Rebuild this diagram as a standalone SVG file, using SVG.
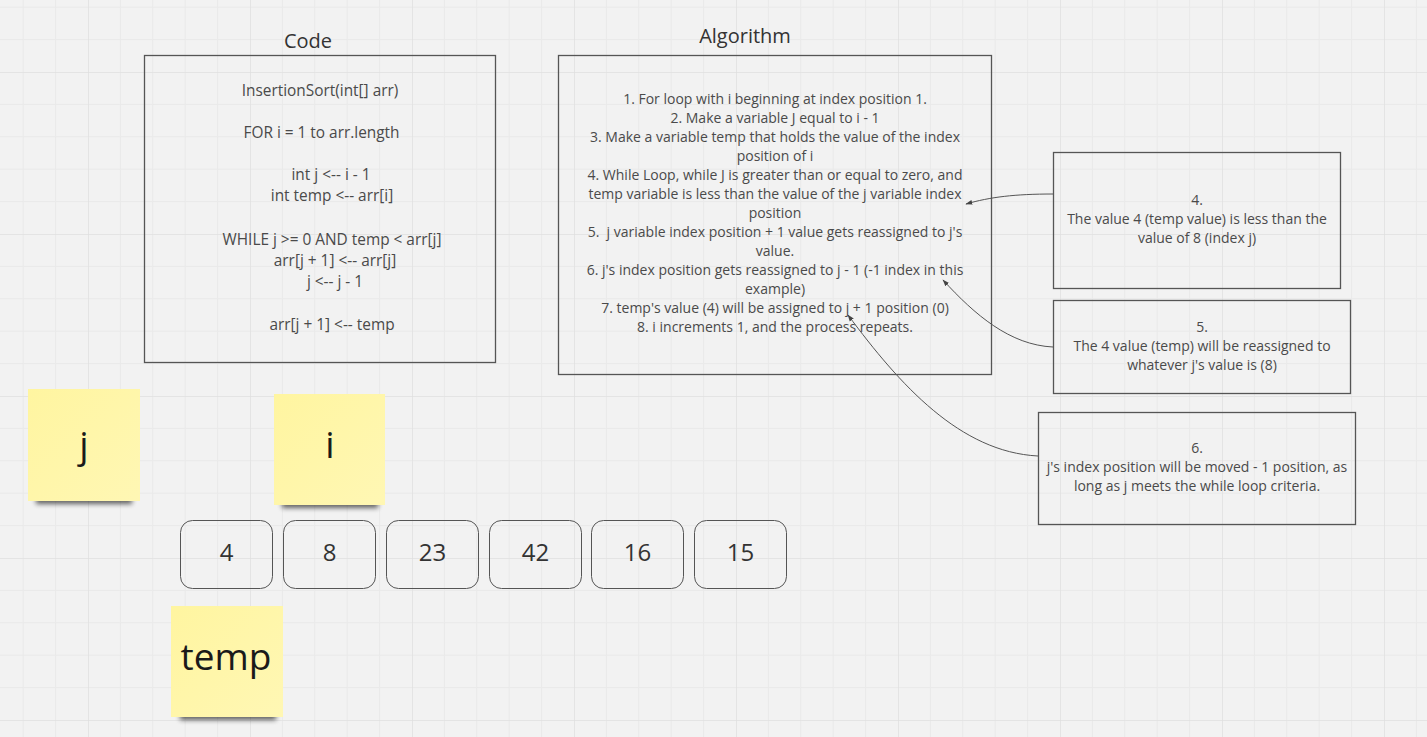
<svg xmlns="http://www.w3.org/2000/svg" width="1427" height="737" viewBox="0 0 1427 737">
<defs>
<pattern id="grid" x="88" y="72" width="162" height="162" patternUnits="userSpaceOnUse">
<path d="M32.4 0V162M64.8 0V162M97.2 0V162M129.6 0V162M0 32.4H162M0 64.8H162M0 97.2H162M0 129.6H162" stroke="#e9e9e9" stroke-width="1" fill="none"/>
<path d="M0 0V162M0 0H162" stroke="#e0e0e0" stroke-width="1.5" fill="none"/>
</pattern>
<linearGradient id="sticky" x1="0" y1="0" x2="1" y2="1">
<stop offset="0" stop-color="#fff5a0"/>
<stop offset="1" stop-color="#fff7b4"/>
</linearGradient>
<filter id="blur" x="-20%" y="-200%" width="140%" height="500%">
<feGaussianBlur stdDeviation="2.5"/>
</filter>
<marker id="arr" viewBox="0 0 10 10" refX="9" refY="5" markerWidth="7" markerHeight="7" orient="auto-start-reverse">
<path d="M0 1.5L10 5L0 8.5z" fill="#444"/>
</marker>
</defs>
<style>
text{font-family:"Open Sans","Noto Sans","Liberation Sans",sans-serif;text-anchor:middle}
.box{fill:none;stroke:#555;stroke-width:1.3}
.title{font-size:20px;fill:#333}
.code{font-size:15.4px;fill:#4a4a4a}
.alg{font-size:14px;fill:#4a4a4a}
.note{font-size:14px;fill:#4a4a4a}
.cell{fill:none;stroke:#555;stroke-width:1}
.num{font-size:24px;fill:#333}
.stk{fill:url(#sticky)}
.shadow{fill:#000;opacity:0.6;filter:url(#blur)}
.stxt{font-size:37px;fill:#1a1a1a}
.conn{fill:none;stroke:#555;stroke-width:1;marker-end:url(#arr)}
</style>
<rect width="1427" height="737" fill="#f2f2f2"/>
<rect width="1427" height="737" fill="url(#grid)"/>

<g id="code">
<text class="title" x="308" y="48">Code</text>
<rect class="box" x="144.5" y="55.5" width="351" height="307"/>
<text class="code" x="320" y="96">InsertionSort(int[] arr)</text>
<text class="code" x="321.5" y="138">FOR i = 1 to arr.length</text>
<text class="code" x="331" y="180">int j &lt;-- i - 1</text>
<text class="code" x="332" y="201">int temp &lt;-- arr[i]</text>
<text class="code" x="332" y="245">WHILE j &gt;= 0 AND temp &lt; arr[j]</text>
<text class="code" x="335" y="266">arr[j + 1] &lt;-- arr[j]</text>
<text class="code" x="335" y="287">j &lt;-- j - 1</text>
<text class="code" x="332" y="330">arr[j + 1] &lt;-- temp</text>
</g>

<g id="algorithm">
<text class="title" x="745" y="43">Algorithm</text>
<rect class="box" x="558.5" y="55.5" width="433" height="319"/>
<text class="alg" x="775" y="104">1. For loop with i beginning at index position 1.</text>
<text class="alg" x="775" y="123">2. Make a variable J equal to i - 1</text>
<text class="alg" x="775" y="142">3. Make a variable temp that holds the value of the index</text>
<text class="alg" x="775" y="161">position of i</text>
<text class="alg" x="775" y="180">4. While Loop, while J is greater than or equal to zero, and</text>
<text class="alg" x="775" y="199">temp variable is less than the value of the j variable index</text>
<text class="alg" x="775" y="218">position</text>
<text class="alg" x="775" y="237" xml:space="preserve">5.  j variable index position + 1 value gets reassigned to j's</text>
<text class="alg" x="775" y="256">value.</text>
<text class="alg" x="775" y="275">6. j's index position gets reassigned to j - 1 (-1 index in this</text>
<text class="alg" x="775" y="294">example)</text>
<text class="alg" x="775" y="313">7. temp's value (4) will be assigned to j + 1 position (0)</text>
<text class="alg" x="775" y="332">8. i increments 1, and the process repeats.</text>
</g>

<g id="note4">
<rect class="box" x="1053.5" y="152.5" width="287" height="136"/>
<text class="note" x="1197" y="205">4.</text>
<text class="note" x="1197" y="224">The value 4 (temp value) is less than the</text>
<text class="note" x="1197" y="243">value of 8 (index j)</text>
</g>
<g id="note5">
<rect class="box" x="1053.5" y="300.5" width="297" height="93"/>
<text class="note" x="1202" y="332">5.</text>
<text class="note" x="1202" y="351">The 4 value (temp) will be reassigned to</text>
<text class="note" x="1202" y="370">whatever j's value is (8)</text>
</g>
<g id="note6">
<rect class="box" x="1038.5" y="412.5" width="317" height="112"/>
<text class="note" x="1197" y="453">6.</text>
<text class="note" x="1197" y="472">j's index position will be moved - 1 position, as</text>
<text class="note" x="1197" y="491">long as j meets the while loop criteria.</text>
</g>

<g id="connectors">
<path class="conn" d="M1053 194C1015 194 990 197 966 204"/>
<path class="conn" d="M1053 347C1010 345 975 315 943 280"/>
<path class="conn" d="M1038 456C960 452 900 385 848 315"/>
</g>

<g id="sticky-j">
<rect class="shadow" x="36" y="496" width="96" height="8"/>
<rect class="stk" x="28" y="389" width="112" height="112"/>
<text class="stxt" x="84" y="458">j</text>
</g>
<g id="sticky-i">
<rect class="shadow" x="282" y="500" width="96" height="8"/>
<rect class="stk" x="274" y="394" width="111" height="111"/>
<text class="stxt" x="330" y="458">i</text>
</g>
<g id="sticky-temp">
<rect class="shadow" x="180" y="712" width="96" height="8"/>
<rect class="stk" x="171" y="606" width="112" height="111"/>
<text class="stxt" x="226" y="670">temp</text>
</g>

<g id="array">
<g id="cell-4"><rect class="cell" x="180.5" y="520.5" width="92" height="68" rx="12"/><text class="num" x="226.5" y="561">4</text></g>
<g id="cell-8"><rect class="cell" x="283.5" y="520.5" width="92" height="68" rx="12"/><text class="num" x="329.5" y="561">8</text></g>
<g id="cell-23"><rect class="cell" x="386.5" y="520.5" width="92" height="68" rx="12"/><text class="num" x="432.5" y="561">23</text></g>
<g id="cell-42"><rect class="cell" x="489.5" y="520.5" width="92" height="68" rx="12"/><text class="num" x="535.5" y="561">42</text></g>
<g id="cell-16"><rect class="cell" x="591.5" y="520.5" width="92" height="68" rx="12"/><text class="num" x="637.5" y="561">16</text></g>
<g id="cell-15"><rect class="cell" x="694.5" y="520.5" width="92" height="68" rx="12"/><text class="num" x="740.5" y="561">15</text></g>
</g>
</svg>
